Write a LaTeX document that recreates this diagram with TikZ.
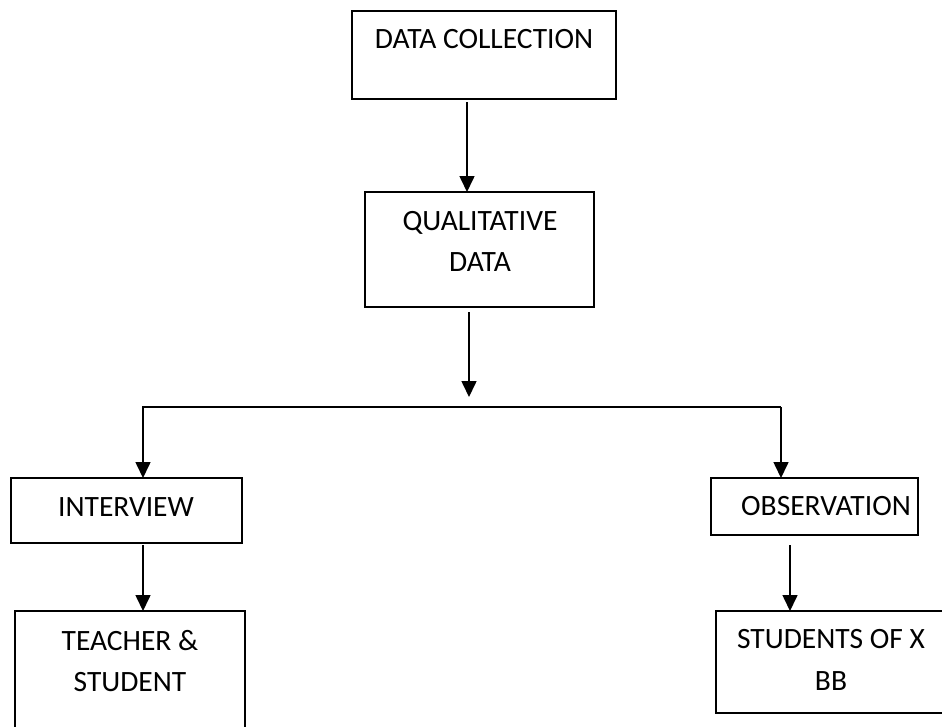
\documentclass[tikz,border=0pt]{standalone}
\usepackage{fontspec}
\setmainfont{Carlito}
\usetikzlibrary{arrows.meta}
\begin{document}
\begin{tikzpicture}[x=1pt,y=-1pt,
  box/.style={draw, line width=1.6pt, inner sep=0pt, outer sep=0pt},
  txt/.style={font=\fontsize{29.5}{41.7}\selectfont, align=center, inner sep=0pt, anchor=base},
  conn/.style={line width=1.6pt},
  arr/.style={conn, -{Triangle[width=15pt,length=16pt]}}]
\fill[white] (0,0) rectangle (942,726);
\useasboundingbox (0,0) rectangle (942,726);
% boxes
\node[box, minimum width=264pt, minimum height=88pt] (dc) at (484,55) {};
\node[txt] (dct) at (484,48) {DATA COLLECTION};
\node[box, minimum width=229pt, minimum height=115pt] (qd) at (479.5,249.5) {};
\node[txt] (qdt) at (480,271.7) {QUALITATIVE\\DATA};
\node[box, minimum width=231pt, minimum height=65pt] (iv) at (126.5,510.5) {};
\node[txt] (ivt) at (126,516) {INTERVIEW};
\node[box, minimum width=207pt, minimum height=57pt] (ob) at (814.5,506.5) {};
\node[txt] (obt) at (826,515) {OBSERVATION};
\node[box, minimum width=230pt, minimum height=125pt] (ts) at (130,673.5) {};
\node[txt] (tst) at (130,691.7) {TEACHER \&\\STUDENT};
\node[box, minimum width=228pt, minimum height=102pt] (sx) at (830,662) {};
\node[txt] (sxt) at (831,690) {STUDENTS OF X\\BB};
% connectors
\coordinate (a1s) at (467,102);
\draw[arr] (a1s) -- (a1s |- qd.north);
\coordinate (a2s) at (469,312);
\coordinate (a2e) at (469,397);
\draw[arr] (a2s) -- (a2e);
\coordinate (hl) at (143,407);
\coordinate (hr) at (781,407);
\draw[arr] (hr) -- (hl) -- (hl |- iv.north);
\draw[arr] (hr) -- (hr |- ob.north);
\coordinate (a3s) at (143,545);
\draw[arr] (a3s) -- (a3s |- ts.north);
\coordinate (a4s) at (790,545);
\draw[arr] (a4s) -- (a4s |- sx.north);
\end{tikzpicture}
\end{document}
